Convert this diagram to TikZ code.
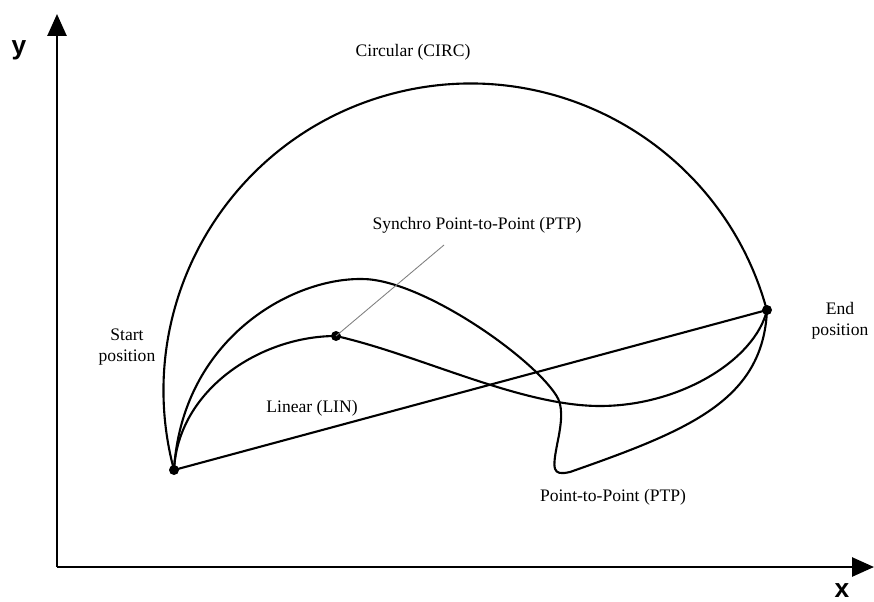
\documentclass[tikz,border=0pt]{standalone}
\usepackage{fontspec}
\setmainfont{Liberation Serif}
\newfontfamily\axisfont{Liberation Sans}
\usetikzlibrary{arrows.meta}

\begin{document}
\begin{tikzpicture}[x=0.02cm, y=-0.02cm,
    axis/.style={line width=1.5pt, -{Triangle[length=0.44cm, width=0.38cm]}},
    track/.style={line width=1.2pt},
    dot/.style={circle, fill, inner sep=0pt, minimum size=0.2cm},
    lbl/.style={font=\fontsize{10}{12}\selectfont, align=center},
    axlbl/.style={font=\axisfont\bfseries\fontsize{15}{15}\selectfont}]
    \useasboundingbox (0,0) rectangle (874,601);
    \coordinate (origin) at (57,567);
    \coordinate (ytip) at (57,14);
    \coordinate (xtip) at (874,567);
    \draw[axis] (origin) -- (ytip);
    \draw[axis] (origin) -- (xtip);
    \node[axlbl] (ylabel) at (19,50) {y};
    \node[axlbl] (xlabel) at (842,591) {x};
    \node[dot] (startpos) at (174,470) {};
    \node[dot] (endpos) at (767,310) {};
    \node[dot] (sync) at (336,336) {};
    % circular
    \draw[track] (startpos.center) arc[start angle=165, end angle=345, radius=307];
    % linear
    \draw[track] (startpos.center) -- (endpos.center);
    % synchro ptp
    \draw[track] (startpos.center) .. controls (178,390) and (260,336) .. (sync.center)
        .. controls (420,355) and (520,406) .. (600,406)
        .. controls (680,406) and (755,360) .. (endpos.center);
    % ptp
    \draw[track] (startpos.center) .. controls (182,340) and (290,278) .. (362,279)
        .. controls (420,279) and (530,355) .. (556,395)
        .. controls (563,405) and (562,420) .. (558,440)
        .. controls (552,470) and (552,476) .. (570,472)
        .. controls (690,430) and (763,400) .. (endpos.center);
    \coordinate (synfoot) at (444,245);
    \draw[gray, line width=0.5pt] (sync.center) -- (synfoot);
    \node[lbl] (circ) at (413,52) {Circular (CIRC)};
    \node[lbl] (synlbl) at (477,225) {Synchro Point-to-Point (PTP)};
    \node[lbl] (startlbl) at (127,347) {Start\\position};
    \node[lbl] (endlbl) at (840,321) {End\\position};
    \node[lbl] (linlbl) at (312,408) {Linear (LIN)};
    \node[lbl] (ptplbl) at (613,497) {Point-to-Point (PTP)};
\end{tikzpicture}
\end{document}
